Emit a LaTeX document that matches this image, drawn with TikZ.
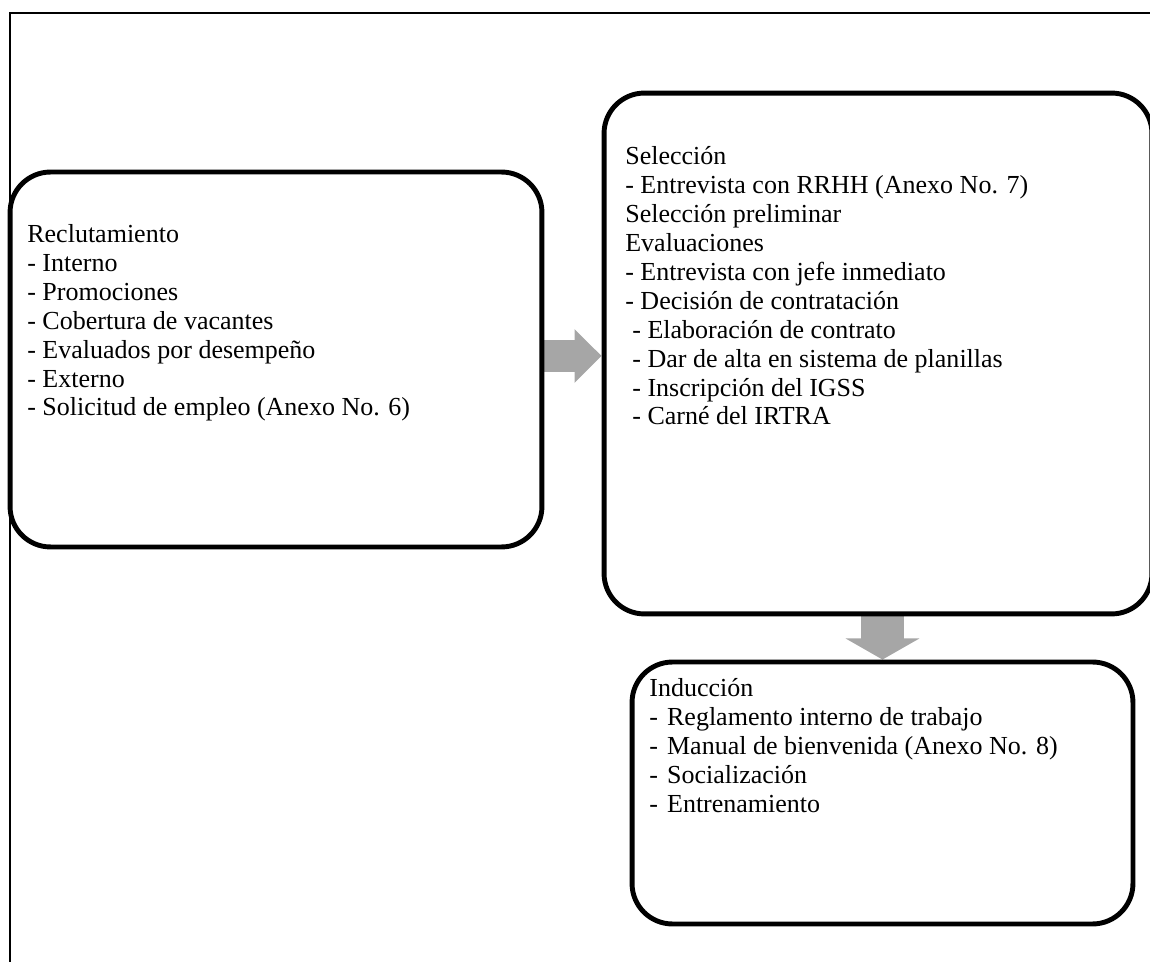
\documentclass[tikz,border=0pt]{standalone}
\usepackage{fontspec}
\setmainfont{Liberation Serif}
\usetikzlibrary{arrows.meta,backgrounds}
\definecolor{arrowgray}{RGB}{166,166,166}
\tikzset{
  box/.style={draw, line width=2.8pt, rounded corners=23pt},
  txt/.style={align=left, anchor=base west, inner sep=0pt, font=\fontsize{14.8}{16.5}\selectfont},
  rarrow/.style={draw=arrowgray, line width=18.2pt, -{Triangle[width=29.6pt, length=15.4pt]}},
  darrow/.style={draw=arrowgray, line width=25pt, -{Triangle[width=41.5pt, length=12pt]}}
}
\begin{document}
\begin{tikzpicture}[x=0.02cm, y=-0.02cm]
  \useasboundingbox (0,0) rectangle (1150,962);
  % frame
  \draw[line width=1.2pt] (1170,13) -- (10,13) -- (10,980);
  % boxes
  \node[box, minimum width=10.64cm, minimum height=7.5cm] (recl) at (276,359.5) {};
  \node[box, minimum width=10.96cm, minimum height=10.42cm] (sel) at (878,353.5) {};
  \node[box, minimum width=10.02cm, minimum height=5.24cm] (ind) at (882.5,793) {};
  % texts (anchored at the baseline of the last line)
  \node[txt] (recltxt) at (27,416) {Reclutamiento\\- Interno\\- Promociones\\- Cobertura de vacantes\\- Evaluados por desempeño\\- Externo\\- Solicitud de empleo (Anexo No. 6)};
  \node[txt] (seltxt) at (625,425) {Selección\\- Entrevista con RRHH (Anexo No. 7)\\Selección preliminar\\Evaluaciones\\- Entrevista con jefe inmediato\\- Decisión de contratación\\\hspace{4pt}- Elaboración de contrato\\\hspace{4pt}- Dar de alta en sistema de planillas\\\hspace{4pt}- Inscripción del IGSS\\\hspace{4pt}- Carné del IRTRA};
  \node[txt] (indtxt) at (649,812) {Inducción\\-\hspace{0.35em}Reglamento interno de trabajo\\-\hspace{0.35em}Manual de bienvenida (Anexo No. 8)\\-\hspace{0.35em}Socialización\\-\hspace{0.35em}Entrenamiento};
  % arrows
  \begin{scope}[on background layer]
    \draw[rarrow] ([yshift=2pt]recl.east) -- ([yshift=2pt]recl.east -| sel.west);
    \draw[darrow] (ind.north |- sel.south) -- (ind.north);
  \end{scope}
\end{tikzpicture}
\end{document}
